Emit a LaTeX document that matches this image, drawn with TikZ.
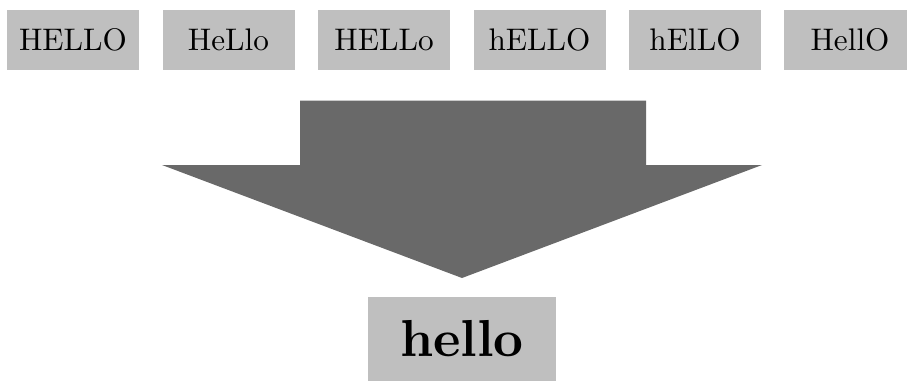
\documentclass[tikz,border=0pt]{standalone}
\usepackage{fontspec}
\setmainfont{lmroman10-regular}[Extension=.otf, BoldFont=lmroman10-bold]
\definecolor{boxgray}{RGB}{191,191,191}
\definecolor{arrowgray}{RGB}{105,105,105}
\tikzset{
  word/.style={fill=boxgray, inner sep=0pt, minimum width=132pt, minimum height=60pt,
    font=\fontsize{31.2}{37}\selectfont, text=black},
  result/.style={fill=boxgray, inner sep=0pt, minimum width=188pt, minimum height=84pt,
    font=\fontsize{52}{60}\selectfont\bfseries, text=black},
}
\begin{document}
\begin{tikzpicture}[x=1pt,y=-1pt]
\useasboundingbox (0,0) rectangle (907,381);
\node[word] (w1) at (73,40) {HELLO};
\node[word] (w2) at (228.5,40) {HeLlo};
\node[word] (w3) at (384,40) {HELLo};
\node[word] (w4) at (539.5,40) {hELLO};
\node[word] (w5) at (695,40) {hElLO};
\node[word] (w6) at (850,40) {HellO};
\fill[arrowgray] (300,100.7) -- (646,100.7) -- (646,165) -- (762,165) -- (462,278)
  -- (162,165) -- (300,165) -- cycle;
\node[result] (res) at (462,339) {hello};
\end{tikzpicture}
\end{document}
